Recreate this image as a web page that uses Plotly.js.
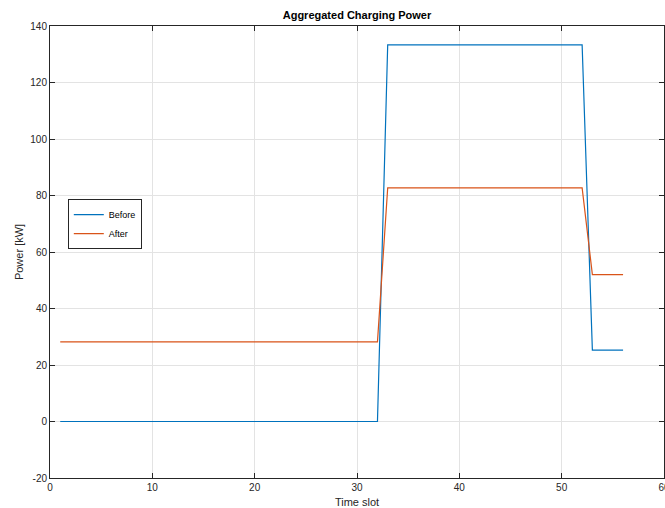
<!DOCTYPE html>
<html>
<head>
<meta charset="utf-8">
<script src="https://cdn.plot.ly/plotly-3.0.1.min.js"></script>
<style>html,body{margin:0;padding:0;background:#fff;}#chart{width:665px;height:508px;}</style>
</head>
<body>
<div id="chart"></div>
<script>
const timeSlots = [1,2,3,4,5,6,7,8,9,10,11,12,13,14,15,16,17,18,19,20,21,22,23,24,25,26,27,28,29,30,31,32,33,34,35,36,37,38,39,40,41,42,43,44,45,46,47,48,49,50,51,52,53,54,55,56];
const beforePower = [0,0,0,0,0,0,0,0,0,0,0,0,0,0,0,0,0,0,0,0,0,0,0,0,0,0,0,0,0,0,0,0,
  133.3,133.3,133.3,133.3,133.3,133.3,133.3,133.3,133.3,133.3,133.3,133.3,133.3,133.3,133.3,133.3,133.3,133.3,133.3,133.3,
  25.3,25.3,25.3,25.3];
const afterPower = [28.2,28.2,28.2,28.2,28.2,28.2,28.2,28.2,28.2,28.2,28.2,28.2,28.2,28.2,28.2,28.2,28.2,28.2,28.2,28.2,28.2,28.2,28.2,28.2,28.2,28.2,28.2,28.2,28.2,28.2,28.2,28.2,
  82.7,82.7,82.7,82.7,82.7,82.7,82.7,82.7,82.7,82.7,82.7,82.7,82.7,82.7,82.7,82.7,82.7,82.7,82.7,82.7,
  52.0,52.0,52.0,52.0];
const seriesNames = ["Before","After"];
const xTicks = [0,10,20,30,40,50,60];
const yTicks = [-20,0,20,40,60,80,100,120,140];
const yTickText = ["-20","0","20","40","60","80","100","120","140"];

const font = "Liberation Sans, Arial, Helvetica, sans-serif";
const traces = [
  {x: timeSlots, y: beforePower, name: seriesNames[0], type: "scatter", mode: "lines",
   line: {color: "#0072BD", width: 1.2}},
  {x: timeSlots, y: afterPower, name: seriesNames[1], type: "scatter", mode: "lines",
   line: {color: "#D95319", width: 1.2}}
];
const axisCommon = {
  showgrid: true, gridcolor: "#e3e3e3", gridwidth: 1,
  zeroline: false, showline: true, linecolor: "#262626", linewidth: 1,
  mirror: "ticks", ticks: "inside", ticklen: 5, tickcolor: "#262626",
  ticklabeloverflow: "allow",
  tickfont: {family: font, size: 10, color: "#262626"}
};
const layout = {
  width: 665, height: 508,
  margin: {l: 50, r: 1, t: 26, b: 30},
  paper_bgcolor: "#ffffff", plot_bgcolor: "#ffffff",
  title: {text: "<b>Aggregated Charging Power</b>", font: {family: font, size: 11, color: "#000"},
          x: 0.5, xanchor: "center", y: 1 - 15/508, yanchor: "middle", xref: "paper"},
  xaxis: Object.assign({}, axisCommon, {
    range: [0, 60], tickvals: xTicks,
    title: {text: "Time slot", font: {family: font, size: 11, color: "#262626"}, standoff: 7}
  }),
  yaxis: Object.assign({}, axisCommon, {
    range: [-20, 140], tickvals: yTicks, ticktext: yTickText,
    title: {text: "Power [kW]", font: {family: font, size: 11, color: "#262626"}, standoff: 4}
  }),
  showlegend: true,
  legend: {x: 0.029, y: 0.617, xanchor: "left", yanchor: "top",
           bgcolor: "#ffffff", bordercolor: "#262626", borderwidth: 1,
           font: {family: font, size: 9, color: "#000"}, tracegroupgap: 0, itemwidth: 30}
};
Plotly.newPlot("chart", traces, layout, {displayModeBar: false, staticPlot: true});
</script>
</body>
</html>
